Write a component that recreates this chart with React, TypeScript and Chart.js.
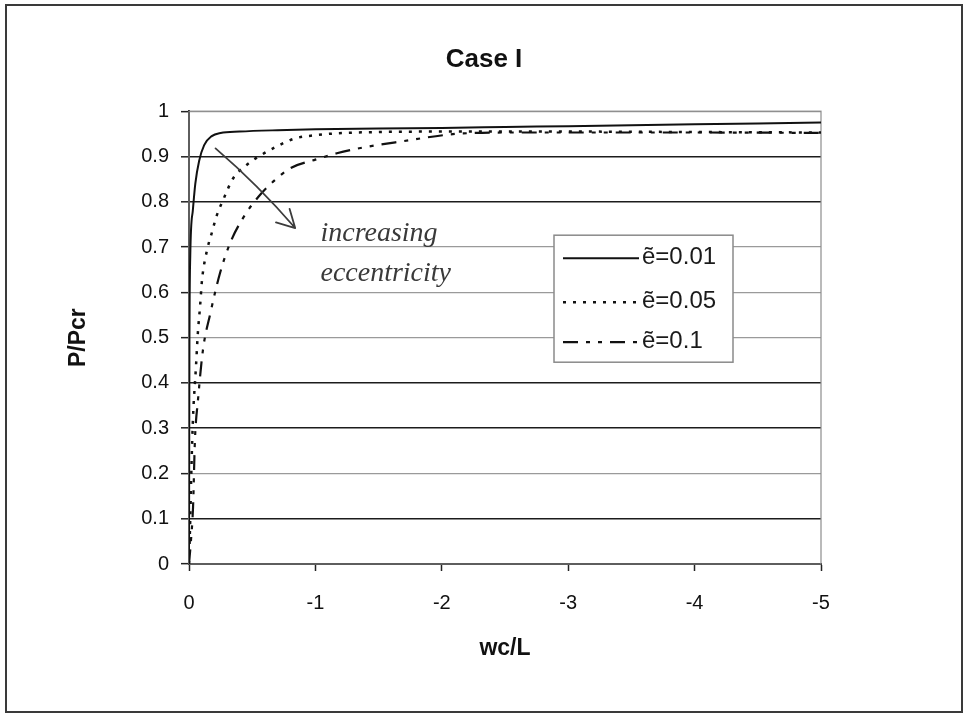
import React, { useEffect, useRef } from "react";
import { Chart, registerables } from "chart.js";

Chart.register(...registerables);

// ---------- text ----------
const titleText = "Case I";
const xAxisTitle = "wc/L";
const yAxisTitle = "P/Pcr";
const seriesLabels = ["ẽ=0.01", "ẽ=0.05", "ẽ=0.1"];
const annotationLines = ["increasing", "eccentricity"];

// ---------- data ----------
// e = 0.01 (solid)
const xE001 = [0, -0.003, -0.01, -0.03, -0.05, -0.08, -0.12, -0.18, -0.25, -0.4, -0.7, -1.0, -1.5, -2.0, -2.5, -3.0, -3.5, -4.0, -4.5, -5.0];
const yE001 = [0, 0.45, 0.68, 0.78, 0.84, 0.89, 0.925, 0.945, 0.952, 0.955, 0.958, 0.96, 0.962, 0.963, 0.965, 0.967, 0.969, 0.971, 0.973, 0.975];

// e = 0.05 (dotted)
const xE005 = [0, -0.01, -0.02, -0.032, -0.055, -0.07, -0.087, -0.103, -0.14, -0.18, -0.22, -0.27, -0.35, -0.45, -0.57, -0.7, -0.84, -1.0, -1.16, -1.5, -2.0, -3.0, -4.0, -5.0];
const yE005 = [0, 0.1, 0.22, 0.325, 0.435, 0.51, 0.567, 0.627, 0.69, 0.731, 0.77, 0.804, 0.852, 0.88, 0.903, 0.923, 0.94, 0.947, 0.951, 0.954, 0.955, 0.955, 0.954, 0.953];

// e = 0.1 (long dash dot dot)
const xE01 = [0, -0.015, -0.032, -0.047, -0.071, -0.11, -0.17, -0.245, -0.324, -0.427, -0.546, -0.68, -0.8, -1.0, -1.17, -1.4, -1.65, -2.17, -2.6, -3.0, -4.0, -5.0];
const yE01 = [0, 0.05, 0.126, 0.274, 0.362, 0.472, 0.555, 0.642, 0.708, 0.764, 0.81, 0.848, 0.874, 0.893, 0.907, 0.921, 0.932, 0.951, 0.953, 0.953, 0.953, 0.952];

// ---------- ticks ----------
const xTickValues = [0, -1, -2, -3, -4, -5];
const yTickValues = [0, 0.1, 0.2, 0.3, 0.4, 0.5, 0.6, 0.7, 0.8, 0.9, 1];
const darkGridValues = [0.1, 0.3, 0.4, 0.8, 0.9];

// ---------- annotation anchors (data space) ----------
const arrowFrom = { x: -0.21, y: 0.918 };
const arrowTo = { x: -0.84, y: 0.742 };
const annotationAnchors = [
  { x: -1.04, y: 0.713 },
  { x: -1.04, y: 0.625 },
];

const FONT = "'Liberation Sans', Arial, sans-serif";

const toPts = (xs: number[], ys: number[]) => xs.map((x, i) => ({ x, y: ys[i] }));

const framePlugin = {
  id: "frame",
  beforeDraw(chart: any) {
    const { ctx, width, height } = chart;
    ctx.save();
    ctx.fillStyle = "#ffffff";
    ctx.fillRect(0, 0, width, height);
    ctx.strokeStyle = "#3a3a3a";
    ctx.lineWidth = 2;
    ctx.strokeRect(6, 5, width - 12, height - 7);
    ctx.restore();
  },
  beforeDatasetsDraw(chart: any) {
    const { ctx, chartArea: a } = chart;
    ctx.save();
    ctx.strokeStyle = "#8c8c8c";
    ctx.lineWidth = 1.2;
    ctx.strokeRect(a.left, a.top, a.right - a.left, a.bottom - a.top);
    ctx.restore();
  },
};

const annotationPlugin = {
  id: "handNote",
  afterDatasetsDraw(chart: any) {
    const { ctx, scales } = chart;
    const xs = scales.x, ys = scales.y;
    const x1 = xs.getPixelForValue(arrowFrom.x), y1 = ys.getPixelForValue(arrowFrom.y);
    const x2 = xs.getPixelForValue(arrowTo.x), y2 = ys.getPixelForValue(arrowTo.y);
    ctx.save();
    ctx.strokeStyle = "#3c3c3c";
    ctx.lineWidth = 1.8;
    ctx.lineCap = "round";
    ctx.lineJoin = "round";
    ctx.beginPath();
    ctx.moveTo(x1, y1);
    ctx.quadraticCurveTo((x1 + x2) / 2 + 3, (y1 + y2) / 2 - 3, x2, y2);
    const ang = Math.atan2(y1 - y2, x1 - x2);
    const len = 20;
    for (const d of [0.5, -0.5]) {
      ctx.moveTo(x2, y2);
      ctx.lineTo(x2 + len * Math.cos(ang + d), y2 + len * Math.sin(ang + d));
    }
    ctx.stroke();
    ctx.fillStyle = "#3a3a3a";
    ctx.font = "italic 28px 'Liberation Serif', 'DejaVu Serif', serif";
    ctx.textBaseline = "alphabetic";
    ctx.textAlign = "left";
    annotationLines.forEach((t, i) => {
      const p = annotationAnchors[i];
      ctx.fillText(t, xs.getPixelForValue(p.x), ys.getPixelForValue(p.y));
    });
    ctx.restore();
  },
};

const boxLegendPlugin = {
  id: "boxLegend",
  afterDraw(chart: any) {
    const { ctx, chartArea: a } = chart;
    const left = a.left + 365;
    const top = a.top + 124;
    const w = 179;
    const h = 127;
    ctx.save();
    ctx.fillStyle = "#ffffff";
    ctx.fillRect(left, top, w, h);
    ctx.strokeStyle = "#8a8a8a";
    ctx.lineWidth = 1.5;
    ctx.strokeRect(left, top, w, h);
    const rows = [23, 67, 107];
    chart.data.datasets.forEach((ds: any, i: number) => {
      const y = top + rows[i];
      ctx.strokeStyle = ds.borderColor;
      ctx.lineWidth = ds.borderWidth;
      ctx.setLineDash(ds.borderDash || []);
      ctx.lineCap = "butt";
      ctx.beginPath();
      ctx.moveTo(left + 9, y);
      ctx.lineTo(left + 85, y);
      ctx.stroke();
      ctx.setLineDash([]);
      ctx.fillStyle = "#1a1a1a";
      ctx.font = `24px ${FONT}`;
      ctx.textBaseline = "middle";
      ctx.textAlign = "left";
      ctx.fillText(ds.label, left + 88, y - 1);
    });
    ctx.restore();
  },
};

export default function App() {
  const ref = useRef<HTMLCanvasElement | null>(null);

  useEffect(() => {
    document.body.style.margin = "0";
    if (!ref.current) return;
    const chart = new Chart(ref.current, {
      type: "line",
      data: {
        datasets: [
          {
            label: seriesLabels[0],
            data: toPts(xE001, yE001),
            borderColor: "#111111",
            borderWidth: 2,
            borderDash: [],
            pointRadius: 0,
            cubicInterpolationMode: "monotone",
          },
          {
            label: seriesLabels[1],
            data: toPts(xE005, yE005),
            borderColor: "#111111",
            borderWidth: 2.5,
            borderDash: [3, 7],
            pointRadius: 0,
            cubicInterpolationMode: "monotone",
          },
          {
            label: seriesLabels[2],
            data: toPts(xE01, yE01),
            borderColor: "#111111",
            borderWidth: 2.2,
            borderDash: [15, 8, 4, 8, 4, 8],
            pointRadius: 0,
            cubicInterpolationMode: "monotone",
          },
        ] as any,
      },
      options: {
        responsive: false,
        devicePixelRatio: 1,
        animation: false,
        layout: { padding: 0 },
        plugins: {
          legend: { display: false },
          tooltip: { enabled: false },
          title: {
            display: true,
            text: titleText,
            color: "#111111",
            font: { family: FONT, size: 26, weight: "bold" },
            padding: { top: 44, bottom: 36 },
          },
        },
        scales: {
          x: {
            type: "linear",
            reverse: true,
            min: -5,
            max: 0,
            afterFit: (s: any) => {
              s.height = 150;
            },
            afterBuildTicks: (s: any) => {
              s.ticks = xTickValues.map((v) => ({ value: v }));
            },
            ticks: {
              color: "#111111",
              font: { family: FONT, size: 20 },
              padding: 20,
              callback: (v: any) => String(v),
            },
            grid: {
              drawOnChartArea: false,
              drawTicks: true,
              tickLength: 7,
              tickColor: "#222222",
              tickWidth: 1.5,
            },
            border: { display: true, color: "#1a1a1a", width: 2 },
            title: {
              display: true,
              text: xAxisTitle,
              color: "#111111",
              font: { family: FONT, size: 23, weight: "bold" },
              padding: { top: 0, bottom: 52 },
            },
          },
          y: {
            type: "linear",
            min: 0,
            max: 1,
            afterFit: (s: any) => {
              s.width = 189;
            },
            afterBuildTicks: (s: any) => {
              s.ticks = yTickValues.map((v) => ({ value: v }));
            },
            ticks: {
              color: "#111111",
              font: { family: FONT, size: 20 },
              padding: 12,
              callback: (v: any) => String(Math.round(Number(v) * 10) / 10),
            },
            grid: {
              drawTicks: true,
              tickLength: 8,
              tickColor: "#222222",
              tickWidth: 1.5,
              color: (c: any) => {
                const v = Math.round((c.tick?.value ?? 0) * 10) / 10;
                return darkGridValues.includes(v) ? "#1c1c1c" : "#9a9a9a";
              },
              lineWidth: (c: any) => {
                const v = Math.round((c.tick?.value ?? 0) * 10) / 10;
                return darkGridValues.includes(v) ? 1.6 : 1.3;
              },
            },
            border: { display: true, color: "#1a1a1a", width: 2 },
            title: {
              display: true,
              text: yAxisTitle,
              color: "#111111",
              font: { family: FONT, size: 23, weight: "bold" },
              padding: { top: 65, bottom: 0 },
            },
          },
          spacer: {
            type: "linear",
            position: "right",
            display: true,
            afterFit: (s: any) => {
              s.width = 147;
            },
            ticks: { display: false },
            grid: { display: false, drawOnChartArea: false, drawTicks: false },
            border: { display: false },
          },
        },
      } as any,
      plugins: [framePlugin, annotationPlugin, boxLegendPlugin],
    });
    return () => chart.destroy();
  }, []);

  return (
    <div style={{ width: 968, height: 714 }}>
      <canvas ref={ref} width={968} height={714} style={{ display: "block" }} />
    </div>
  );
}
